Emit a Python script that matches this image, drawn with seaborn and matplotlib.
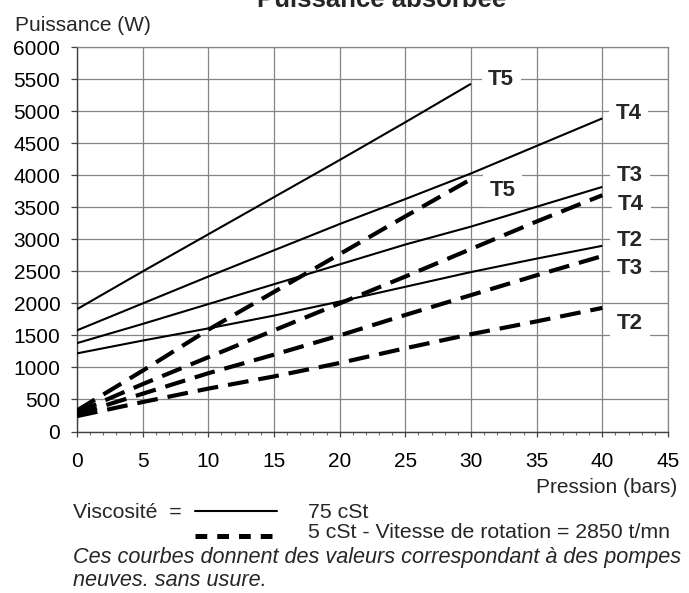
import matplotlib
matplotlib.use("Agg")
import matplotlib.pyplot as plt
from matplotlib.lines import Line2D
import seaborn as sns
import pandas as pd

# ---- data ----
pression = [0, 5, 10, 15, 20, 25, 30, 35, 40]
pression_t5 = [0, 5, 10, 15, 20, 25, 30]

solid_T5 = [1910, 2500, 3080, 3660, 4240, 4830, 5430]
solid_T4 = [1580, 2000, 2420, 2830, 3240, 3630, 4030, 4460, 4890]
solid_T3 = [1380, 1680, 1990, 2300, 2610, 2920, 3200, 3510, 3820]
solid_T2 = [1220, 1420, 1610, 1810, 2030, 2260, 2490, 2700, 2900]

dash_T5 = [330, 950, 1590, 2180, 2770, 3360, 3940]
dash_T4 = [300, 740, 1160, 1580, 2000, 2420, 2850, 3280, 3690]
dash_T3 = [270, 590, 910, 1200, 1500, 1820, 2130, 2440, 2740]
dash_T2 = [240, 460, 670, 860, 1070, 1300, 1520, 1720, 1930]

x_ticks = [0, 5, 10, 15, 20, 25, 30, 35, 40, 45]
y_ticks = [0, 500, 1000, 1500, 2000, 2500, 3000, 3500, 4000, 4500, 5000, 5500, 6000]

# label anchor positions (data coords)
labels = [
    ("T5", 32.3, 5493), ("T4", 42.0, 4962), ("T3", 42.1, 4005), ("T4", 42.2, 3542),
    ("T2", 42.1, 2989), ("T3", 42.1, 2552), ("T2", 42.1, 1683), ("T5", 32.4, 3770),
]

curves = [
    ("T5 75", "75 cSt", pression_t5, solid_T5),
    ("T4 75", "75 cSt", pression, solid_T4),
    ("T3 75", "75 cSt", pression, solid_T3),
    ("T2 75", "75 cSt", pression, solid_T2),
    ("T5 5", "5 cSt", pression_t5, dash_T5),
    ("T4 5", "5 cSt", pression, dash_T4),
    ("T3 5", "5 cSt", pression, dash_T3),
    ("T2 5", "5 cSt", pression, dash_T2),
]
rows = []
for name, visc, xs, ys in curves:
    for xv, yv in zip(xs, ys):
        rows.append({"Courbe": name, "Viscosite": visc, "Pression": xv, "Puissance": yv})
df = pd.DataFrame(rows)

# ---- style ----
sns.set_theme(style="white")
plt.rcParams["font.family"] = ["Liberation Sans", "DejaVu Sans"]

W, H = 689, 593
fig = plt.figure(figsize=(W / 100, H / 100), dpi=100)
fx = lambda px: px / W
fy = lambda py: 1 - py / H

ax = fig.add_axes([fx(77), fy(431.5), (668 - 77) / W, (431.5 - 47.3) / H])

sns.lineplot(
    data=df, x="Pression", y="Puissance", units="Courbe", estimator=None,
    style="Viscosite", dashes={"75 cSt": "", "5 cSt": (5.0, 2.4)},
    size="Viscosite", sizes={"75 cSt": 1.5, "5 cSt": 3.0},
    color="black", legend=False, ax=ax, sort=False, zorder=3,
)
for ln in ax.lines:
    ln.set_solid_capstyle("butt")
    ln.set_dash_capstyle("butt")

ax.set_xlim(0, 45)
ax.set_ylim(0, 6000)
ax.set_xticks(x_ticks)
ax.set_xticks(range(0, 46), minor=True)
ax.set_yticks(y_ticks)
ax.set_xticklabels([str(v) for v in x_ticks])
ax.set_yticklabels([str(v) for v in y_ticks])
ax.set_xlabel("")
ax.set_ylabel("")

ax.set_axisbelow(True)
ax.grid(True, which="major", color="#858585", lw=0.9)
ax.grid(False, which="minor")
for side in ["top", "right"]:
    ax.spines[side].set_color("#858585")
    ax.spines[side].set_linewidth(0.9)
for side in ["left", "bottom"]:
    ax.spines[side].set_color("#404040")
    ax.spines[side].set_linewidth(1.0)

ax.tick_params(axis="y", which="major", direction="out", length=4, width=0.9,
               color="#404040", pad=8, labelsize=15, labelcolor="black", left=True)
ax.tick_params(axis="x", which="major", direction="out", length=3.6, width=0.9,
               color="#404040", pad=11.5, labelsize=15, labelcolor="black", bottom=True)
ax.tick_params(axis="x", which="minor", direction="out", length=2.2, width=0.8,
               color="#707070", bottom=True)

for txt, xv, yv in labels:
    ax.text(xv, yv, txt, ha="center", va="center", fontsize=16, fontweight="bold",
            zorder=4, bbox=dict(boxstyle="square,pad=0.3", fc="white", ec="none"))

# ---- figure texts ----
fig.text(fx(382), fy(7), "Puissance absorbée", ha="center", va="baseline",
         fontsize=18.5, fontweight="bold")
fig.text(fx(15), fy(31), "Puissance (W)", ha="left", va="baseline", fontsize=15)
fig.text(fx(677), fy(493), "Pression (bars)", ha="right", va="baseline", fontsize=15)

fig.text(fx(73), fy(517.5), "Viscosité  =", ha="left", va="baseline", fontsize=15.3)
fig.text(fx(308), fy(517.7), "75 cSt", ha="left", va="baseline", fontsize=15.3)
fig.text(fx(308), fy(538), "5 cSt - Vitesse de rotation = 2850 t/mn",
         ha="left", va="baseline", fontsize=15.3)
fig.text(fx(73), fy(563), "Ces courbes donnent des valeurs correspondant à des pompes",
         ha="left", va="baseline", fontsize=15.6, style="italic")
fig.text(fx(73), fy(586), "neuves. sans usure.",
         ha="left", va="baseline", fontsize=15.6, style="italic")

fig.add_artist(Line2D([fx(195), fx(276.7)], [fy(510.7), fy(510.7)],
                      transform=fig.transFigure, color="black", lw=1.5))
fig.add_artist(Line2D([fx(195), fx(276.7)], [fy(535.7), fy(535.7)],
                      transform=fig.transFigure, color="black", lw=3.6,
                      linestyle=(0, (2.35, 2.0)), dash_capstyle="butt"))

fig.savefig("out.png", dpi=100)
